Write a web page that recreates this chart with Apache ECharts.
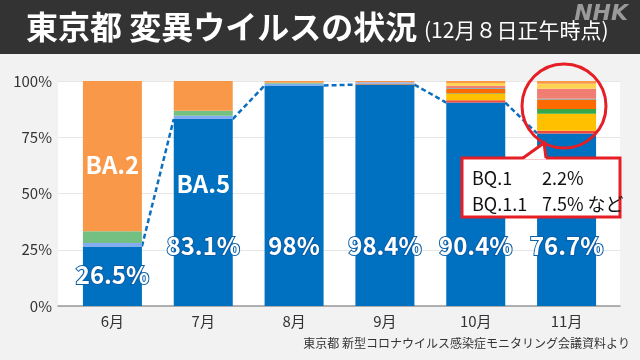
<!DOCTYPE html>
<html><head><meta charset="utf-8">
<script src="https://cdn.jsdelivr.net/npm/echarts@6/dist/echarts.min.js"></script>
<style>html,body{margin:0;padding:0;background:#f2f2f2}#c{width:640px;height:360px}</style>
</head><body><div id="c"></div>
<script>
const categories = ['6月','7月','8月','9月','10月','11月'];
const yTicks = [0, 25, 50, 75, 100];
// stacked shares (%) bottom to top
const ba5      = [26.5, 83.1, 98, 98.4, 90.4, 76.7];
const redV     = [0, 0, 0, 0, 1.0, 1.2];
const bq11     = [0, 0, 0, 0, 2.9, 7.5];
const bq1      = [0, 0, 0, 0, 0.3, 2.2];
const dOrange  = [0, 0, 0, 0.4, 1.9, 4.2];
const tealV    = [0, 0, 0, 0, 0.3, 0.3];
const salmonV  = [0, 0, 0, 0, 1.1, 4.5];
const yellowV  = [0, 0, 0, 0, 1.2, 2.2];
const ba4      = [1.5, 1.5, 0.8, 0.6, 0, 0];
const ba2121   = [5.2, 2.2, 0.4, 0, 0, 0];
const ba2      = [66.8, 13.2, 0.8, 0.6, 0.9, 1.2];
const calloutNames = ['BQ.1', 'BQ.1.1'];
const calloutValues = ['2.2%', '7.5% など'];

const FONT = '"Noto Sans CJK JP","Noto Sans",sans-serif';
const chart = echarts.init(document.getElementById('c'));
const BAR_W = 59;
const G1L = 67, G1R = 28;
const catW = (640 - G1L - G1R) / categories.length;
const h = (BAR_W / 2) / catW;

// connector line points between adjacent blue tops
const linePts = [];
for (let i = 0; i < ba5.length - 1; i++) {
  linePts.push([i + h, ba5[i]], [i + 1 - h, ba5[i + 1]], [i + 0.5, '-']);
}

const pctStyle = {fontSize: 24, fontWeight: 'bold', color: '#fff', fontFamily: FONT,
  textBorderColor: '#0a5ea8', textBorderWidth: 2, lineHeight: 28};

function stackSeries(name, arr, color, extra) {
  return Object.assign({
    name, type: 'bar', stack: 'all', xAxisIndex: 1, yAxisIndex: 1,
    barWidth: BAR_W, data: arr, itemStyle: {color}, z: 3,
    emphasis: {disabled: true}
  }, extra || {});
}

const option = {
  backgroundColor: '#f2f2f2',
  animation: false,
  grid: [
    {left: 58, right: 20, top: 81, bottom: 54, show: true, backgroundColor: '#fff', borderWidth: 0},
    {left: G1L, right: G1R, top: 81, bottom: 54}
  ],
  xAxis: [
    {gridIndex: 0, type: 'value', min: 0, max: 1, show: true,
      axisLine: {show: true, lineStyle: {color: '#999', width: 1.5}}, axisTick: {show: false},
      axisLabel: {show: false}, splitLine: {show: false}},
    {gridIndex: 1, type: 'category', data: categories,
      axisLine: {show: false}, axisTick: {show: false},
      axisLabel: {color: '#333', fontSize: 15, fontFamily: FONT, margin: 8}},
    {gridIndex: 1, type: 'value', min: -0.5, max: categories.length - 0.5, show: false}
  ],
  yAxis: [
    {gridIndex: 0, type: 'value', min: 0, max: 100, interval: 25,
      axisLine: {show: false}, axisTick: {show: false},
      axisLabel: {formatter: v => yTicks.includes(v) ? v + '%' : '', color: '#333', fontSize: 15, fontFamily: FONT, margin: 6},
      splitLine: {lineStyle: {color: '#e6e6e6', width: 1}}},
    {gridIndex: 1, type: 'value', min: 0, max: 100, show: false}
  ],
  series: [
    {name: 'line', type: 'line', xAxisIndex: 2, yAxisIndex: 1, data: linePts, symbol: 'none',
      connectNulls: false, z: 2, lineStyle: {color: '#0a6fc0', width: 2.5, type: [5, 3]}},
    stackSeries('BA.5', ba5.map((v, i) => ({value: v, label: i === 0 ? {distance: 17} : {}})), '#0070c0', {
      label: {show: true, position: 'insideBottom', distance: 46,
        formatter: p => (p.dataIndex === 1 ? '{a|BA.5}\n' : '') + '{b|' + p.value + '%}',
        rich: {b: pctStyle, a: Object.assign({}, pctStyle, {textBorderWidth: 0, lineHeight: 96})}}
    }),
    stackSeries('red', redV, '#f0483e'),
    stackSeries('BQ.1.1', bq11, '#ffc000'),
    stackSeries('BQ.1', bq1, '#36a84a'),
    stackSeries('dorange', dOrange, '#ff6a00'),
    stackSeries('teal', tealV, '#4bb0c8'),
    stackSeries('salmon', salmonV, '#f07e72'),
    stackSeries('yellow', yellowV, '#ffd452'),
    stackSeries('BA.4', ba4, '#84acf2'),
    stackSeries('BA.2.12.1', ba2121, '#74c083'),
    stackSeries('BA.2', ba2.map((v, i) => i === 0 ? {value: v, label: {show: true, position: 'inside', offset: [0, 9],
      formatter: 'BA.2', fontSize: 24, fontWeight: 'bold', color: '#fff', fontFamily: FONT}} : v), '#fa984a')
  ],
  graphic: [
    {type: 'rect', shape: {x: 0, y: 0, width: 640, height: 54}, style: {fill: '#333'}},
    {type: 'text', x: 26, y: 27, style: {text: '東京都 変異ウイルスの状況', fill: '#fff',
      font: 'bold 32px ' + FONT, textVerticalAlign: 'middle'}},
    {type: 'text', x: 424, y: 30, style: {text: '(12月８日正午時点)', fill: '#fff',
      font: '21px ' + FONT, textVerticalAlign: 'middle'}},
    {type: 'text', x: 628, y: 14, style: {text: 'NHK', fill: '#9a9a9a', textAlign: 'right',
      font: 'italic bold 22px "DejaVu Sans",sans-serif', textVerticalAlign: 'middle'}},
    {type: 'text', x: 630, y: 343, style: {text: '東京都 新型コロナウイルス感染症モニタリング会議資料より', fill: '#333',
      font: '12px ' + FONT, textAlign: 'right', textVerticalAlign: 'middle'}},
    {type: 'circle', shape: {cx: 564, cy: 106, r: 42}, style: {fill: 'none', stroke: '#e61e25', lineWidth: 3}, z: 50},
    {type: 'rect', shape: {x: 462, y: 158, width: 158, height: 59}, style: {fill: '#fff', stroke: '#e61e25', lineWidth: 3}, z: 50},
    {type: 'polygon', shape: {points: [[523, 159.5], [544, 143], [546, 159.5]]}, style: {fill: '#fff'}, z: 51},
    {type: 'polyline', shape: {points: [[523, 158], [544, 143], [546, 158]]}, style: {fill: 'none', stroke: '#e61e25', lineWidth: 3}, z: 52},
    ...calloutNames.map((n, i) => ({type: 'text', x: 472, y: 178 + i * 26, z: 53,
      style: {text: n, fill: '#111', font: '18px ' + FONT, textVerticalAlign: 'middle'}})),
    ...calloutValues.map((n, i) => ({type: 'text', x: 542, y: 178 + i * 26, z: 53,
      style: {text: n, fill: '#111', font: '18px ' + FONT, textVerticalAlign: 'middle'}}))
  ]
};
chart.setOption(option);
</script></body></html>
